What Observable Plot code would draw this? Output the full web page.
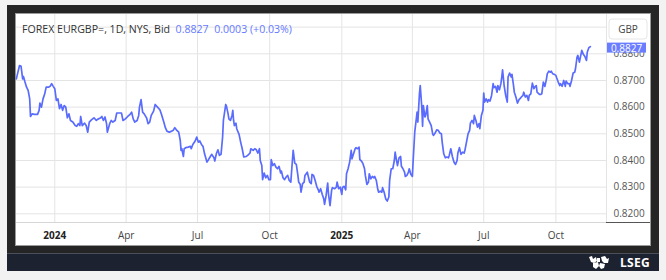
<!DOCTYPE html>
<html>
<head>
<meta charset="utf-8">
<script src="https://cdn.jsdelivr.net/npm/d3@7"></script>
<script src="https://cdn.jsdelivr.net/npm/@observablehq/plot@0.6"></script>
<style>
  html, body { margin: 0; padding: 0; }
  body { width: 666px; height: 280px; background: #f2f2f2; position: relative; overflow: hidden; font-family: "Open Sans", "Noto Sans", sans-serif; }
  #frame { position: absolute; left: 7px; top: 5px; width: 652px; height: 248px; background: #252525; }
  #panel { position: absolute; left: 9px; top: 9px; width: 634px; height: 231px; background: #fff; box-shadow: 0 0 0 1px #9a9a9a; }
  #title { position: absolute; left: 6px; top: 8px; font-size: 10.6px; line-height: 14px; color: #333; white-space: nowrap; }
  #title .q { color: #6478ff; }
  #band { position: absolute; left: 7px; top: 253px; width: 652px; height: 17px; background: #1d2230; border-top: 1px solid #4b505c; }
  #lseg { position: absolute; right: 9px; top: 0px; font: bold 12px/17px "Open Sans", sans-serif; color: #fff; letter-spacing: 0.3px; }
  #crest { position: absolute; left: 581px; top: 1px; }
</style>
</head>
<body>
<div id="frame">
  <div id="panel">
    <div id="chart"></div>
    <div id="title">FOREX EURGBP=, 1D, NYS, Bid&nbsp; <span class="q">0.8827&nbsp; 0.0003 (+0.03%)</span></div>
  </div>
</div>
<div id="band">
  <svg id="crest" width="22" height="15" viewBox="0 0 22 15">
    <g fill="#fff">
      <path d="M1 2 L4 1 L5 4 L8 2 L9 6 L6 8 L3 7 Z"/>
      <path d="M13 2 L17 1 L19 4 L21 3 L20 8 L16 8 L14 6 Z"/>
      <path d="M5 8 L10 7 L11 11 L8 14 L5 12 Z"/>
      <path d="M12 8 L17 9 L16 13 L13 14 L11 11 Z"/>
      <rect x="9" y="3" width="3" height="4"/>
    </g>
  </svg>
  <div id="lseg">LSEG</div>
</div>
<script>
// ---- data ----
const dates = [
"2023-11-13","2023-11-14","2023-11-17","2023-11-19","2023-11-21","2023-11-22","2023-11-24","2023-11-26","2023-11-28","2023-11-30",
"2023-12-01","2023-12-03","2023-12-06","2023-12-10","2023-12-12","2023-12-13","2023-12-15","2023-12-17","2023-12-19","2023-12-21",
"2023-12-24","2023-12-26","2023-12-28","2023-12-30","2024-01-01","2024-01-03","2024-01-05","2024-01-07","2024-01-09","2024-01-11",
"2024-01-13","2024-01-15","2024-01-17","2024-01-19","2024-01-21","2024-01-24","2024-01-27","2024-01-29","2024-01-31","2024-02-02",
"2024-02-03","2024-02-05","2024-02-08","2024-02-10","2024-02-12","2024-02-14","2024-02-17","2024-02-20","2024-02-23","2024-02-25",
"2024-02-28","2024-03-01","2024-03-03","2024-03-05","2024-03-07","2024-03-08","2024-03-11","2024-03-13","2024-03-15","2024-03-18",
"2024-03-20","2024-03-23","2024-03-26","2024-03-28","2024-03-31","2024-04-03","2024-04-06","2024-04-08","2024-04-10","2024-04-12",
"2024-04-15","2024-04-17","2024-04-18","2024-04-20","2024-04-22","2024-04-24","2024-04-27","2024-04-29","2024-05-01","2024-05-03",
"2024-05-06","2024-05-08","2024-05-11","2024-05-14","2024-05-16","2024-05-19","2024-05-21","2024-05-23","2024-05-26","2024-05-29",
"2024-05-31","2024-06-02","2024-06-04","2024-06-07","2024-06-09","2024-06-10","2024-06-11","2024-06-13","2024-06-14","2024-06-16",
"2024-06-19","2024-06-22","2024-06-23","2024-06-25","2024-06-28","2024-06-30","2024-07-02","2024-07-04","2024-07-06","2024-07-08",
"2024-07-10","2024-07-13","2024-07-15","2024-07-17","2024-07-19","2024-07-22","2024-07-23","2024-07-25","2024-07-27","2024-07-29",
"2024-07-31","2024-08-02","2024-08-03","2024-08-06","2024-08-07","2024-08-09","2024-08-10","2024-08-12","2024-08-14","2024-08-15",
"2024-08-16","2024-08-17","2024-08-19","2024-08-20","2024-08-23","2024-08-25","2024-08-27","2024-08-29","2024-09-01","2024-09-03",
"2024-09-06","2024-09-07","2024-09-10","2024-09-12","2024-09-14","2024-09-16","2024-09-18","2024-09-19","2024-09-21","2024-09-22",
"2024-09-24","2024-09-26","2024-09-28","2024-09-30","2024-10-02","2024-10-03","2024-10-05","2024-10-07","2024-10-09","2024-10-11",
"2024-10-13","2024-10-15","2024-10-16","2024-10-18","2024-10-20","2024-10-22","2024-10-24","2024-10-26","2024-10-28","2024-10-30",
"2024-10-31","2024-11-02","2024-11-04","2024-11-06","2024-11-07","2024-11-09","2024-11-10","2024-11-12","2024-11-14","2024-11-15",
"2024-11-18","2024-11-21","2024-11-23","2024-11-24","2024-11-26","2024-11-28","2024-11-30","2024-12-02","2024-12-03","2024-12-05",
"2024-12-07","2024-12-09","2024-12-10","2024-12-12","2024-12-14","2024-12-15","2024-12-17","2024-12-19","2024-12-20","2024-12-23",
"2024-12-25","2024-12-26","2024-12-28","2024-12-30","2025-01-01","2025-01-02","2025-01-04","2025-01-06","2025-01-07","2025-01-09",
"2025-01-11","2025-01-13","2025-01-14","2025-01-16","2025-01-18","2025-01-19","2025-01-21","2025-01-23","2025-01-24","2025-01-26",
"2025-01-28","2025-01-30","2025-01-31","2025-02-02","2025-02-04","2025-02-05","2025-02-07","2025-02-09","2025-02-11","2025-02-12",
"2025-02-14","2025-02-16","2025-02-17","2025-02-19","2025-02-21","2025-02-22","2025-02-24","2025-02-26","2025-02-28","2025-03-02",
"2025-03-03","2025-03-05","2025-03-07","2025-03-09","2025-03-10","2025-03-11","2025-03-13","2025-03-15","2025-03-17","2025-03-18",
"2025-03-20","2025-03-22","2025-03-23","2025-03-25","2025-03-27","2025-03-28","2025-03-30","2025-04-01","2025-04-02","2025-04-04",
"2025-04-06","2025-04-07","2025-04-08","2025-04-10","2025-04-11","2025-04-13","2025-04-14","2025-04-15","2025-04-17","2025-04-18",
"2025-04-20","2025-04-21","2025-04-23","2025-04-25","2025-04-27","2025-04-28","2025-04-30","2025-05-02","2025-05-04","2025-05-06",
"2025-05-08","2025-05-09","2025-05-11","2025-05-13","2025-05-15","2025-05-17","2025-05-18","2025-05-20","2025-05-22","2025-05-24",
"2025-05-26","2025-05-28","2025-05-29","2025-05-31","2025-06-02","2025-06-04","2025-06-06","2025-06-07","2025-06-09","2025-06-11",
"2025-06-13","2025-06-14","2025-06-16","2025-06-18","2025-06-19","2025-06-21","2025-06-23","2025-06-25","2025-06-26","2025-06-28",
"2025-06-30","2025-07-01","2025-07-02","2025-07-04","2025-07-06","2025-07-07","2025-07-09","2025-07-11","2025-07-13","2025-07-14",
"2025-07-16","2025-07-18","2025-07-19","2025-07-21","2025-07-23","2025-07-24","2025-07-25","2025-07-27","2025-07-29","2025-07-31",
"2025-08-01","2025-08-03","2025-08-05","2025-08-06","2025-08-08","2025-08-09","2025-08-11","2025-08-13","2025-08-15","2025-08-16",
"2025-08-18","2025-08-20","2025-08-21","2025-08-23","2025-08-25","2025-08-27","2025-08-28","2025-08-30","2025-09-01","2025-09-03",
"2025-09-04","2025-09-06","2025-09-07","2025-09-10","2025-09-12","2025-09-13","2025-09-15","2025-09-17","2025-09-19","2025-09-20",
"2025-09-22","2025-09-24","2025-09-25","2025-09-27","2025-09-29","2025-10-01","2025-10-02","2025-10-04","2025-10-06","2025-10-07",
"2025-10-09","2025-10-11","2025-10-13","2025-10-14","2025-10-16","2025-10-18","2025-10-19","2025-10-21","2025-10-23","2025-10-25",
"2025-10-26","2025-10-28","2025-10-29","2025-10-31","2025-11-02","2025-11-03","2025-11-05","2025-11-07","2025-11-09","2025-11-10",
"2025-11-12","2025-11-14"
];
const rates = [
0.8706,0.8719,0.8756,0.8753,0.8706,0.8715,0.8694,0.8675,0.8663,0.8631,
0.8565,0.8575,0.8573,0.8573,0.8588,0.8615,0.8600,0.8631,0.8648,0.8675,
0.8675,0.8678,0.8688,0.8678,0.8669,0.8625,0.8631,0.8594,0.8610,0.8588,
0.8606,0.8600,0.8560,0.8575,0.8550,0.8544,0.8531,0.8528,0.8538,0.8531,
0.8565,0.8531,0.8540,0.8531,0.8506,0.8544,0.8553,0.8560,0.8550,0.8555,
0.8559,0.8565,0.8550,0.8563,0.8538,0.8506,0.8538,0.8550,0.8544,0.8550,
0.8578,0.8578,0.8578,0.8550,0.8556,0.8565,0.8573,0.8581,0.8556,0.8544,
0.8550,0.8569,0.8600,0.8628,0.8581,0.8575,0.8560,0.8538,0.8544,0.8569,
0.8585,0.8610,0.8600,0.8590,0.8573,0.8544,0.8523,0.8510,0.8506,0.8510,
0.8513,0.8523,0.8515,0.8506,0.8475,0.8438,0.8444,0.8415,0.8444,0.8448,
0.8450,0.8453,0.8444,0.8460,0.8473,0.8488,0.8469,0.8473,0.8460,0.8453,
0.8425,0.8394,0.8403,0.8413,0.8423,0.8410,0.8398,0.8425,0.8440,0.8419,
0.8423,0.8488,0.8550,0.8610,0.8603,0.8575,0.8556,0.8550,0.8569,0.8588,
0.8550,0.8531,0.8540,0.8519,0.8498,0.8469,0.8444,0.8413,0.8415,0.8419,
0.8428,0.8444,0.8438,0.8444,0.8440,0.8428,0.8444,0.8400,0.8381,0.8328,
0.8353,0.8335,0.8344,0.8328,0.8328,0.8403,0.8381,0.8388,0.8375,0.8369,
0.8378,0.8353,0.8360,0.8335,0.8328,0.8338,0.8344,0.8325,0.8319,0.8400,
0.8438,0.8390,0.8385,0.8344,0.8319,0.8310,0.8281,0.8313,0.8319,0.8344,
0.8356,0.8319,0.8313,0.8348,0.8344,0.8325,0.8303,0.8290,0.8281,0.8294,
0.8273,0.8256,0.8235,0.8269,0.8315,0.8275,0.8231,0.8288,0.8298,0.8294,
0.8300,0.8319,0.8294,0.8300,0.8273,0.8300,0.8303,0.8290,0.8350,0.8369,
0.8394,0.8438,0.8406,0.8425,0.8444,0.8448,0.8444,0.8450,0.8403,0.8398,
0.8388,0.8369,0.8344,0.8310,0.8319,0.8350,0.8331,0.8340,0.8335,0.8340,
0.8325,0.8290,0.8281,0.8285,0.8281,0.8298,0.8281,0.8256,0.8248,0.8263,
0.8325,0.8369,0.8369,0.8400,0.8431,0.8413,0.8381,0.8410,0.8415,0.8378,
0.8369,0.8356,0.8340,0.8344,0.8356,0.8369,0.8348,0.8340,0.8400,0.8506,
0.8556,0.8581,0.8544,0.8650,0.8681,0.8600,0.8528,0.8606,0.8563,0.8569,
0.8606,0.8556,0.8544,0.8531,0.8498,0.8494,0.8503,0.8515,0.8513,0.8503,
0.8500,0.8469,0.8425,0.8410,0.8413,0.8410,0.8419,0.8444,0.8415,0.8394,
0.8385,0.8400,0.8428,0.8448,0.8423,0.8431,0.8428,0.8438,0.8469,0.8500,
0.8513,0.8540,0.8550,0.8538,0.8569,0.8550,0.8525,0.8538,0.8519,0.8569,
0.8588,0.8653,0.8619,0.8631,0.8619,0.8628,0.8623,0.8644,0.8688,0.8673,
0.8678,0.8656,0.8681,0.8665,0.8690,0.8713,0.8740,0.8681,0.8644,0.8619,
0.8713,0.8728,0.8713,0.8723,0.8681,0.8656,0.8638,0.8615,0.8628,0.8631,
0.8638,0.8644,0.8656,0.8638,0.8644,0.8625,0.8644,0.8650,0.8690,0.8669,
0.8675,0.8681,0.8656,0.8648,0.8648,0.8650,0.8694,0.8678,0.8706,0.8725,
0.8735,0.8731,0.8735,0.8725,0.8723,0.8719,0.8710,0.8694,0.8681,0.8688,
0.8678,0.8700,0.8678,0.8698,0.8688,0.8688,0.8678,0.8700,0.8728,0.8731,
0.8744,0.8788,0.8794,0.8769,0.8798,0.8813,0.8798,0.8790,0.8775,0.8806,
0.8823,0.8827
];
const yearTicks = ["2024-01-01", "2025-01-01"];
const monthTicks = ["2024-04-01", "2024-07-01", "2024-10-01", "2025-04-01", "2025-07-01", "2025-10-01"];
const yGridTicks = [0.82, 0.83, 0.84, 0.85, 0.86, 0.87, 0.88, 0.89];
const yLabelTicks = [0.82, 0.83, 0.84, 0.85, 0.86, 0.87, 0.88];
const currency = "GBP";
const lastValue = 0.8827;

// ---- build ----
const parse = d3.utcParse("%Y-%m-%d");
const series = dates.map((d, i) => ({date: parse(d), value: rates[i]}));
const yt = yearTicks.map(parse);
const mt = monthTicks.map(parse);
const allX = yt.concat(mt);

const W = 634, H = 231;
const plot = Plot.plot({
  width: W, height: H,
  marginLeft: 0, marginRight: 44, marginTop: 0, marginBottom: 23,
  style: {fontFamily: '"Open Sans", "Noto Sans", sans-serif', fontSize: "10px", background: "#fff", overflow: "visible"},
  x: {type: "utc", domain: [new Date(Date.UTC(2023, 10, 13, 4)), new Date(Date.UTC(2025, 11, 4, 13))]},
  y: {domain: [0.81674, 0.89474]},
  marks: [
    Plot.gridY(yGridTicks, {stroke: "#e4e4e4", strokeOpacity: 1}),
    Plot.gridX(allX, {stroke: "#e4e4e4", strokeOpacity: 1}),
    Plot.frame({anchor: "bottom", stroke: "#d6d6d6"}),
    Plot.frame({anchor: "right", stroke: "#e4e4e4"}),
    Plot.line(series, {x: "date", y: "value", stroke: "#5a6cfd", strokeWidth: 1.7, strokeLinejoin: "round"}),
    Plot.axisY(yLabelTicks, {anchor: "right", tickSize: 0, tickPadding: 7, tickFormat: d3.format(".4f"), fill: "#555", fontSize: 10, label: null}),
    Plot.axisX(yt, {anchor: "bottom", tickSize: 0, tickPadding: 9, tickFormat: d3.utcFormat("%Y"), fill: "#222", fontWeight: "bold", fontSize: 10, label: null}),
    Plot.axisX(mt, {anchor: "bottom", tickSize: 0, tickPadding: 9, tickFormat: d3.utcFormat("%b"), fill: "#444", fontSize: 10, label: null})
  ]
});
document.getElementById("chart").appendChild(plot);

// decorations using the plot's own scales
const svg = d3.select(plot);
const yS = plot.scale("y");
const yBottom = yS.apply(yS.domain[0]);
const xRight = W - 44;
svg.append("line").attr("x1", xRight).attr("x2", W).attr("y1", yBottom + 0.5).attr("y2", yBottom + 0.5)
  .attr("stroke", "#555").attr("stroke-width", 1);

// currency box
const gb = svg.append("g");
gb.append("rect").attr("x", xRight + 3).attr("y", 5).attr("width", 38).attr("height", 20).attr("rx", 3)
  .attr("fill", "#fff").attr("stroke", "#e6e6e6");
gb.append("text").attr("x", xRight + 22).attr("y", 15).attr("text-anchor", "middle").attr("dominant-baseline", "central")
  .attr("fill", "#444").attr("font-size", 10).text(currency);

// last value label
const ly = yS.apply(lastValue);
const lg = svg.append("g");
lg.append("rect").attr("x", xRight + 1).attr("y", ly - 3.5).attr("width", 39).attr("height", 10).attr("fill", "#6a7cff");
lg.append("text").attr("x", xRight + 20.5).attr("y", ly + 1.5).attr("text-anchor", "middle").attr("dominant-baseline", "central")
  .attr("fill", "#fff").attr("font-size", 10).text(d3.format(".4f")(lastValue));
</script>
</body>
</html>
